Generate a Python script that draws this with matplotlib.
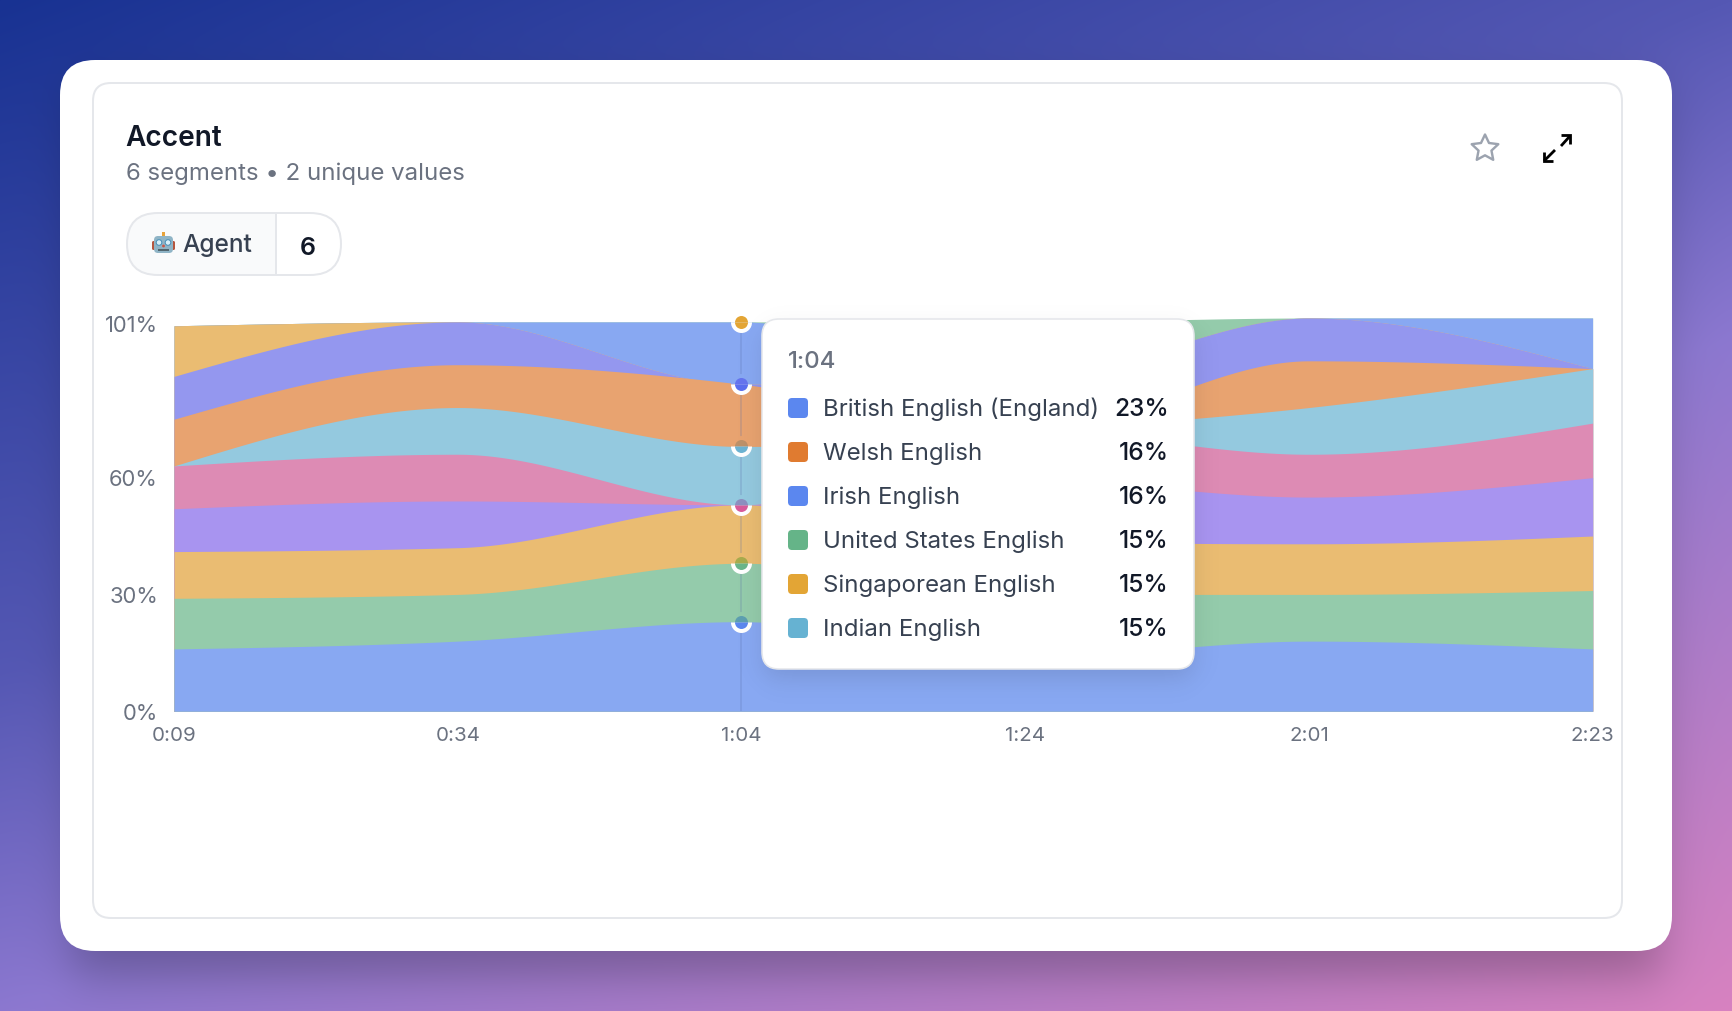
"""Accent stacked-area card with hover tooltip."""

from __future__ import annotations

import matplotlib

matplotlib.use("Agg")
import matplotlib.pyplot as plt
import numpy as np
from matplotlib.markers import MarkerStyle
from matplotlib.patches import Circle, FancyBboxPatch, Polygon, Rectangle
from matplotlib.transforms import ScaledTranslation

W, H = 1733, 1011
plt.rcParams["font.family"] = ["Inter", "DejaVu Sans"]

# band thickness per timestamp, bottom to top
times = ["0:09", "0:34", "1:04", "1:24", "2:01", "2:23"]
british = [16, 18, 23, 14, 18, 16]
us_green = [13, 12, 15, 16, 12, 15]
singapore = [12, 12, 15, 13.6, 13, 14]
purple_band = [11, 12, 0, 15.7, 12, 15]
pink_band = [11, 12, 0, 12.7, 11, 14]
indian = [0, 12, 15, 0, 12, 14]
welsh = [12, 11, 16, 0, 12, 0]
periwinkle = [11, 11, 0, 13, 11, 0]
gold_top = [13, 0, 0, 0, 0, 0]
irish = [0, 0, 16, 0, 0, 13]
green_top = [0, 0, 0, 15, 0, 0]

layers = [british, us_green, singapore, purple_band, pink_band, indian, welsh, periwinkle, gold_top, irish, green_top]
layer_colors = [
    "#88a8f2", "#94cbab", "#eabc72", "#a894f0", "#dd8bb4", "#94c9df",
    "#e8a370", "#9497ef", "#eabc72", "#88a8f2", "#94cbab",
]

y_ticks = [0, 30, 60, 101]
y_tick_labels = ["0%", "30%", "60%", "101%"]

tooltip_time = "1:04"
tooltip_names = [
    "British English (England)", "Welsh English", "Irish English",
    "United States English", "Singaporean English", "Indian English",
]
tooltip_values = ["23%", "16%", "16%", "15%", "15%", "15%"]
tooltip_colors = ["#5b87ef", "#e07b30", "#5b87ef", "#65b488", "#e3a535", "#66b2d2"]

# hover dots at 1:04: stack level, own colour, tint where the next band covers it, covering band
dot_levels = [23, 38, 53, 68, 84, 100]
dot_low = ["#5b87ef", "#6ab58a", "#d85b9b", "#6cb3d2", "#5a6eef", "#e3a535"]
dot_high = ["#5d9fb0", "#a8ab4d", "#8d90c0", "#bd9169", "#6574ee", "#e3a535"]
dot_cover = ["#94cbab", "#eabc72", "#94c9df", "#e8a370", "#88a8f2", "#ffffff"]

GREY = "#6b7280"
BORDER = "#e5e7eb"


def px(v):
    return v * 0.72


def monotone(y, n=300):
    """d3 curveMonotoneX on unit spaced points."""
    y = np.asarray(y, dtype=float)
    s = np.diff(y)
    m = np.zeros(len(y))
    for i in range(1, len(y) - 1):
        m[i] = (np.sign(s[i - 1]) + np.sign(s[i])) * min(abs(s[i - 1]), abs(s[i]), 0.25 * abs(s[i - 1] + s[i]))
    m[0] = (3 * s[0] - m[1]) / 2
    m[-1] = (3 * s[-1] - m[-2]) / 2
    xs, ys = [], []
    for i in range(len(s)):
        t = np.linspace(0, 1, n)
        h00 = 1 - 3 * t**2 + 2 * t**3
        h01 = 3 * t**2 - 2 * t**3
        h10 = t**3 - 2 * t**2 + t
        h11 = t**3 - t**2
        xs.append(i + t)
        ys.append(h00 * y[i] + h01 * y[i + 1] + h10 * m[i] + h11 * m[i + 1])
    return np.concatenate(xs), np.concatenate(ys)


def soft_box(xx, yy, x0, x1, y0, y1, s):
    sx = 0.5 * (np.tanh((xx - x0) / s) - np.tanh((xx - x1) / s))
    sy = 0.5 * (np.tanh((yy - y0) / s) - np.tanh((yy - y1) / s))
    return sx * sy


def round_box(ax, x0, y0, x1, y1, r, **kw):
    box = FancyBboxPatch((x0 + r, y0 + r), x1 - x0 - 2 * r, y1 - y0 - 2 * r, boxstyle=f"round,pad={r},rounding_size={r}", **kw)
    ax.add_patch(box)
    return box


fig = plt.figure(figsize=(W / 100, H / 100), dpi=100)

# page background with gradient and card shadow
bg = fig.add_axes([0, 0, 1, 1], zorder=0)
yy, xx = np.mgrid[0:H, 0:W]
t = 0.4 * xx / W + 0.6 * yy / H
stops = [0, 0.4, 0.6, 1]
rgb = np.dstack([
    np.interp(t, stops, [24, 85, 140, 216]),
    np.interp(t, stops, [50, 88, 120, 130]),
    np.interp(t, stops, [146, 180, 208, 192]),
]) / 255
shade = 0.25 * soft_box(xx, yy, 72, 1660, 85, 976, 28)
bg.imshow(rgb * (1 - shade[..., None]), extent=(0, W, H, 0), aspect="auto", interpolation="nearest")
bg.set_xlim(0, W)
bg.set_ylim(H, 0)
bg.axis("off")
round_box(bg, 60, 60, 1672, 951, 35, fc="white", ec="none")
round_box(bg, 93, 83, 1622, 918, 18, fc="white", ec=BORDER, lw=px(2))

# chart
ax = fig.add_axes([174 / W, 1 - 711.2 / H, 1418.6 / W, 393.2 / H], zorder=1)
x_pos = np.arange(len(times))
stack = np.cumsum(np.array(layers, dtype=float), axis=0)
for level, color in reversed(list(zip(stack, layer_colors))):
    cx, cy = monotone(level)
    ax.fill_between(cx, 0, cy, color=color, lw=0)
ax.set_xlim(0, len(times) - 1)
ax.set_ylim(0, 101)
ax.set_xticks(x_pos, times)
ax.set_yticks(y_ticks, y_tick_labels)
ax.tick_params(length=0, colors=GREY)
ax.tick_params(axis="x", labelsize=px(20.5), pad=px(15.5))
ax.tick_params(axis="y", labelsize=px(22), pad=px(16))
for side in ax.spines.values():
    side.set_visible(False)
# nudge y labels down, the 101% one sits clear of the top edge
for lab, down in zip(ax.get_yticklabels(), [1, 1, 0, 6]):
    lab.set_transform(lab.get_transform() + ScaledTranslation(0, -down / 100, fig.dpi_scale_trans))
ax.patch.set_alpha(0)

# crosshair and hover dots
hover = times.index(tooltip_time)
ax.plot([hover, hover], [0, 100], color="#5a6ea8", alpha=0.2, lw=px(2), zorder=3)
for level, low, high, cover in zip(dot_levels, dot_low, dot_high, dot_cover):
    big, small = (2 * px(10.5)) ** 2, (2 * px(6.5)) ** 2
    ax.scatter(hover, level, s=big, marker=MarkerStyle("o", fillstyle="top"), c=cover, lw=0, zorder=4, clip_on=False)
    ax.scatter(hover, level, s=big, marker=MarkerStyle("o", fillstyle="bottom"), c="white", lw=0, zorder=4, clip_on=False)
    ax.scatter(hover, level, s=small, marker=MarkerStyle("o", fillstyle="top"), c=high, lw=0, zorder=5, clip_on=False)
    ax.scatter(hover, level, s=small, marker=MarkerStyle("o", fillstyle="bottom"), c=low, lw=0, zorder=5, clip_on=False)

# everything in page pixels from here on
ui = fig.add_axes([0, 0, 1, 1], zorder=2)
ui.patch.set_alpha(0)

# tooltip
glow = np.zeros((H, W, 4))
glow[..., 3] = 0.13 * soft_box(xx, yy, 765, 1191, 332, 676, 16)
ui.imshow(glow, extent=(0, W, H, 0), aspect="auto", interpolation="nearest")
round_box(ui, 762, 319, 1194, 669, 17, fc="white", ec=BORDER, lw=px(1.6))
ui.text(788, 362, tooltip_time, fontsize=px(24), color=GREY, va="center", fontweight="medium")
for i, (name, val, col) in enumerate(zip(tooltip_names, tooltip_values, tooltip_colors)):
    y = 408 + 44 * i
    round_box(ui, 788, y - 10, 808, y + 10, 4, fc=col, ec="none")
    ui.text(823.5, y + 1.5, name, fontsize=px(24), color="#374151", va="center")
    ui.text(1169, y + 2, val, fontsize=px(24.5), color="#111827", va="center", ha="right", fontweight="medium")

# header
ui.text(125.5, 146, "Accent", fontsize=px(28), fontweight="semibold", color="#111827", va="baseline")
ui.text(126, 180, "6 segments • 2 unique values", fontsize=px(24), color=GREY, va="baseline")

# segment pill
pill_left = FancyBboxPatch((158, 244), 152, 0, boxstyle="round,pad=31,rounding_size=31", fc="#f9fafb", ec="none")
ui.add_patch(pill_left)
clip = Rectangle((100, 200), 176, 90, transform=ui.transData)
pill_left.set_clip_path(clip)
round_box(ui, 127, 213, 341, 275, 31, fc="none", ec=BORDER, lw=px(2))
ui.plot([276, 276], [213, 275], color=BORDER, lw=px(2))
ui.text(182, 252, "Agent", fontsize=px(24.5), color="#374151", va="baseline", fontweight="medium")
ui.text(308, 255, "6", fontsize=px(25), color="#111827", va="baseline", ha="center", fontweight="semibold")

# robot emoji
ui.add_patch(Rectangle((162, 232), 3.5, 4, fc="#e8a33a", ec="none"))
round_box(ui, 152, 241, 156, 250, 1.5, fc="#b5563f", ec="none")
round_box(ui, 171, 241, 175, 250, 1.5, fc="#b5563f", ec="none")
round_box(ui, 154, 236, 173, 253, 4, fc="#8fb4c6", ec="none")
ui.add_patch(Circle((159, 242.5), 2.8, fc="#d8f0fa", ec="#4a90b8", lw=px(1)))
ui.add_patch(Circle((168, 242.5), 2.8, fc="#d8f0fa", ec="#4a90b8", lw=px(1)))
ui.add_patch(Circle((163.5, 246), 1.4, fc="#cc5544", ec="none"))
ui.add_patch(Rectangle((158, 248.5), 11, 2.4, fc="#52666f", ec="none"))

# star icon
angles = np.deg2rad(np.arange(-90, 270, 36))
radii = np.tile([14, 6.8], 5)
star = np.column_stack([1485 + radii * np.cos(angles), 148.5 + radii * np.sin(angles)])
ui.add_patch(Polygon(star, closed=True, fc="none", ec="#9ca3af", lw=px(2.4), joinstyle="round"))

# expand icon
for seg in (
    [(1561, 146), (1570, 136)],
    [(1561, 135), (1570, 135), (1570, 144)],
    [(1555, 150), (1544, 161)],
    [(1544, 152), (1544, 161), (1553, 161)],
):
    ui.plot(*zip(*seg), color="black", lw=px(2.8), solid_joinstyle="miter", solid_capstyle="butt")

ui.set_xlim(0, W)
ui.set_ylim(H, 0)
ui.axis("off")

fig.savefig("out.png", dpi=100)
plt.close(fig)
